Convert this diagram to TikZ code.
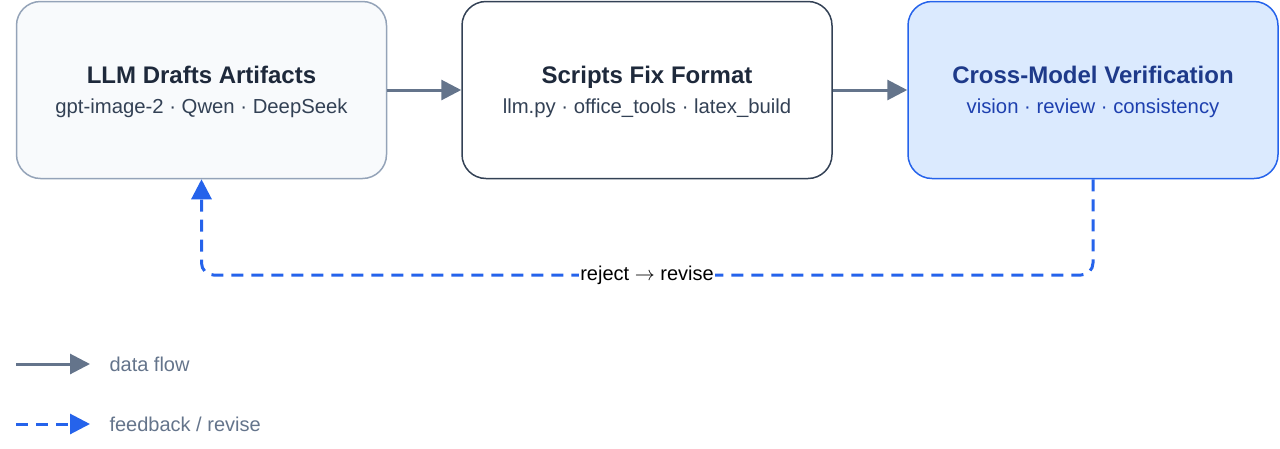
\RequirePackage{fix-cm}
\documentclass[tikz,border=0pt]{standalone}
\usepackage{fontspec}
\setmainfont{Liberation Sans}
\usetikzlibrary{arrows.meta}
\definecolor{flowgray}{HTML}{64748B}
\definecolor{fbblue}{HTML}{2563EB}
\definecolor{draftline}{HTML}{94A3B8}
\definecolor{draftfill}{HTML}{F8FAFC}
\definecolor{scriptline}{HTML}{334155}
\definecolor{verifyfill}{HTML}{DBEAFE}
\definecolor{darktext}{HTML}{1E293B}
\definecolor{subtext}{HTML}{334155}
\definecolor{verifytext}{HTML}{1E3A8A}
\definecolor{verifysub}{HTML}{1E40AF}
\newcommand{\boxtitle}[1]{{\fontsize{24}{30}\selectfont\bfseries\rule{0pt}{21pt}#1}}
\begin{document}
\begin{tikzpicture}
            [x=1pt, y=-1pt,
            box/.style={rounded corners=24pt, line width=1.5pt, minimum width=370pt, minimum height=177pt, align=center, font=\fontsize{20.3}{30}\selectfont},
            flow/.style={line width=3pt, draw=flowgray, -{Triangle[length=20pt,width=20pt]}},
            feedback/.style={line width=3pt, draw=fbblue, dash pattern=on 12pt off 8pt, rounded corners=12pt, -{Triangle[length=20pt,width=20pt]}},
            legend/.style={anchor=west, text=flowgray, font=\fontsize{20}{24}\selectfont}]
            \useasboundingbox (0, 0) rectangle (1280, 448);
            \node [box, draw=draftline, fill=draftfill, text=darktext] (draft) at (201.5, 90)
                {\boxtitle{LLM Drafts Artifacts}\\ \color{subtext}gpt-image-2 · Qwen · DeepSeek};
            \node [box, draw=scriptline, fill=white, text=darktext] (scripts) at (647, 90)
                {\boxtitle{Scripts Fix Format}\\ \color{subtext}llm.py · office\_tools · latex\_build};
            \node [box, draw=fbblue, fill=verifyfill, text=verifytext] (verify) at (1093, 90)
                {\boxtitle{Cross-Model Verification}\\ \color{verifysub}vision · review · consistency};
            \draw [flow] (draft) -- (scripts);
            \draw [flow] (scripts) -- (verify);
            \coordinate (back) at (647, 275);
            \draw [feedback] (verify.south) |- (back) -| (draft.south);
            \node [fill=white, inner sep=1pt, font=\fontsize{20}{24}\selectfont] (backlabel) at (back) {reject $\rightarrow$ revise};
            \coordinate (flowstart) at (16, 364);
            \coordinate (flowend) at (90, 364);
            \node [legend] (flowtext) at (106, 364) {data flow};
            \draw [flow] (flowstart) -- (flowend);
            \coordinate (fbstart) at (16, 424);
            \coordinate (fbend) at (90, 424);
            \node [legend] (fbtext) at (106, 424) {feedback / revise};
            \draw [feedback] (fbstart) -- (fbend);
        \end{tikzpicture}
\end{document}
